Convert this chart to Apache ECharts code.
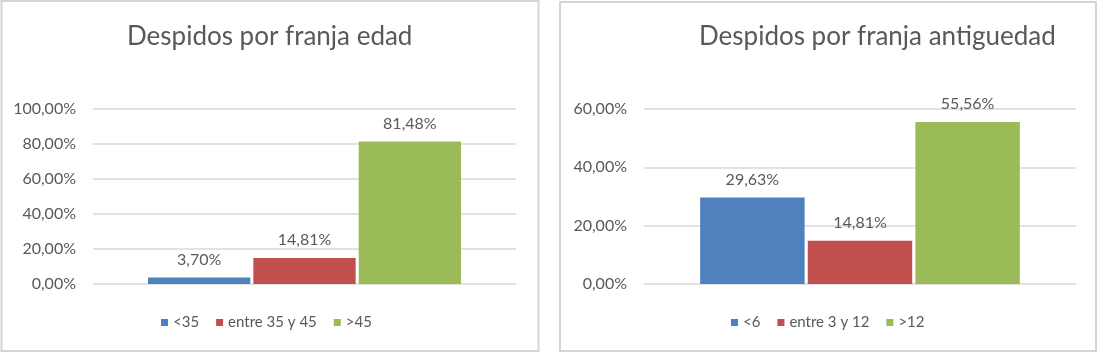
<!DOCTYPE html>
<html>
<head>
<meta charset="utf-8">
<script src="https://cdn.jsdelivr.net/npm/echarts@6/dist/echarts.min.js"></script>
<style>
  html, body { margin: 0; padding: 0; background: #fff; }
  #chart { width: 1099px; height: 353px; }
</style>
</head>
<body>
<div id="chart"></div>
<script>
// datos (porcentajes)
var edadTitulo = 'Despidos por franja edad';
var edadSeries = ['<35', 'entre 35 y 45', '>45'];
var edadValores = [3.70, 14.81, 81.48];
var edadTicks = [0, 20, 40, 60, 80, 100];

var antigTitulo = 'Despidos por franja antiguedad';
var antigSeries = ['<6', 'entre 3 y 12', '>12'];
var antigValores = [29.63, 14.81, 55.56];
var antigTicks = [0, 20, 40, 60];

var colores = ['#4F81BD', '#C0504D', '#9BBB59'];
var gris = '#595959';
var fuente = 'Lato';

function pct(v) {
    return v.toFixed(2).replace('.', ',') + '%';
}

var myChart = echarts.init(document.getElementById('chart'));

function hacerSeries(nombres, valores, idx) {
    return nombres.map(function (n, i) {
        return {
            name: n,
            type: 'bar',
            xAxisIndex: idx,
            yAxisIndex: idx,
            data: [valores[i]],
            barGap: '3%',
            barCategoryGap: '26%',
            itemStyle: { color: colores[i] },
            label: {
                show: true,
                position: 'top',
                distance: 10,
                color: gris,
                fontFamily: fuente,
                fontSize: 16,
                formatter: function (p) { return pct(p.value); }
            }
        };
    });
}

function ejeY(ticks, idx) {
    return {
        type: 'value',
        gridIndex: idx,
        min: ticks[0],
        max: ticks[ticks.length - 1],
        interval: ticks[1] - ticks[0],
        axisLine: { show: false },
        axisTick: { show: false },
        axisLabel: {
            color: gris,
            fontFamily: fuente,
            fontSize: 16,
            margin: 17,
            formatter: function (v) { return pct(v); }
        },
        splitLine: { lineStyle: { color: '#D9D9D9', width: 1.5 } }
    };
}

function ejeX(idx) {
    return {
        type: 'category',
        gridIndex: idx,
        data: [''],
        axisLine: { show: false },
        axisTick: { show: false },
        axisLabel: { show: false }
    };
}

var option = {
    animation: false,
    textStyle: { fontFamily: fuente },
    title: [
        {
            text: edadTitulo,
            left: 122,
            top: 19,
            textStyle: { color: gris, fontFamily: fuente, fontSize: 26, fontWeight: 'normal' }
        },
        {
            text: antigTitulo,
            left: 694,
            top: 19,
            textStyle: { color: gris, fontFamily: fuente, fontSize: 26, fontWeight: 'normal' }
        }
    ],
    legend: [
        {
            data: edadSeries,
            left: 161,
            top: 315,
            padding: 0,
            icon: 'rect',
            itemWidth: 7,
            itemHeight: 7,
            itemGap: 17,
            textStyle: { color: gris, fontFamily: fuente, fontSize: 15 }
        },
        {
            data: antigSeries,
            left: 731,
            top: 315,
            padding: 0,
            icon: 'rect',
            itemWidth: 7,
            itemHeight: 7,
            itemGap: 17,
            textStyle: { color: gris, fontFamily: fuente, fontSize: 15 }
        }
    ],
    grid: [
        { left: 93, right: 583, top: 109, bottom: 69 },
        { left: 644, right: 23, top: 109, bottom: 69 }
    ],
    xAxis: [ejeX(0), ejeX(1)],
    yAxis: [ejeY(edadTicks, 0), ejeY(antigTicks, 1)],
    series: hacerSeries(edadSeries, edadValores, 0).concat(hacerSeries(antigSeries, antigValores, 1)),
    // marcos de los dos paneles
    graphic: [
        {
            type: 'rect',
            shape: { x: 1.5, y: 1, width: 537, height: 350 },
            style: { fill: 'none', stroke: '#D4D4D4', lineWidth: 2 },
            silent: true
        },
        {
            type: 'rect',
            shape: { x: 560, y: 2, width: 536, height: 349 },
            style: { fill: 'none', stroke: '#D4D4D4', lineWidth: 2 },
            silent: true
        }
    ]
};

myChart.setOption(option);
</script>
</body>
</html>
